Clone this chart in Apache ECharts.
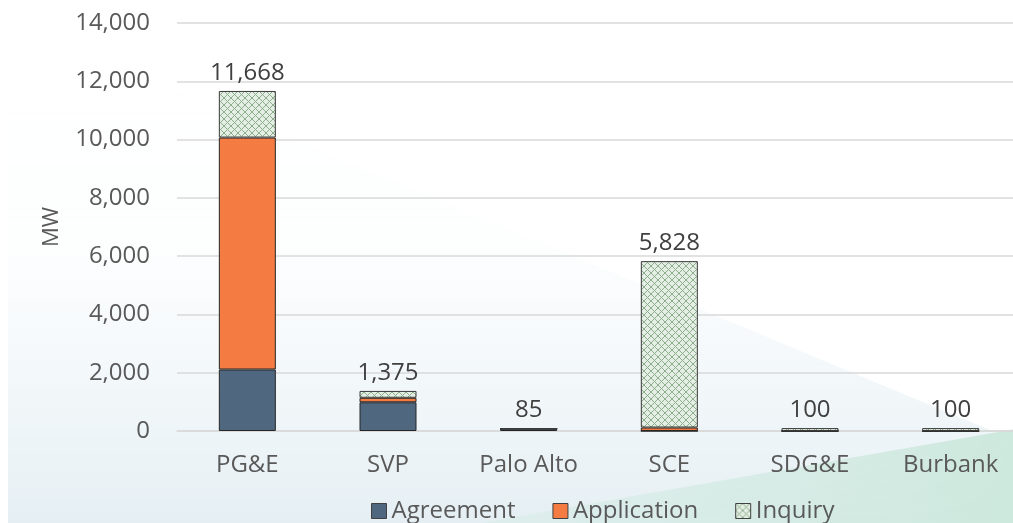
<!DOCTYPE html>
<html>
<head>
<meta charset="utf-8">
<script src="https://cdn.jsdelivr.net/npm/echarts@6/dist/echarts.min.js"></script>
<style>html,body{margin:0;padding:0;background:#fff;overflow:hidden}#c{width:1021px;height:523px}</style>
</head>
<body>
<div id="c"></div>
<script>
const categories = ['PG&E', 'SVP', 'Palo Alto', 'SCE', 'SDG&E', 'Burbank'];
const agreement = [2110, 985, 85, 0, 0, 0];
const application = [7960, 155, 0, 120, 0, 0];
const inquiry = [1598, 235, 0, 5708, 100, 100];
const totals = [11668, 1375, 85, 5828, 100, 100];
const yTicks = [0, 2000, 4000, 6000, 8000, 10000, 12000, 14000];

function hatch() {
  const c = document.createElement('canvas');
  c.width = 7; c.height = 7;
  const g = c.getContext('2d');
  g.fillStyle = '#e4eee4';
  g.fillRect(0, 0, 7, 7);
  g.strokeStyle = '#8cae8c';
  g.lineWidth = 1;
  g.beginPath();
  g.moveTo(0, 0); g.lineTo(7, 7);
  g.moveTo(7, 0); g.lineTo(0, 7);
  g.stroke();
  return c;
}
const pattern = { image: hatch(), repeat: 'repeat' };
const FONT = '"Open Sans"';
const TXT = '#595959';

const chart = echarts.init(document.getElementById('c'), null, { renderer: 'canvas' });
chart.setOption({
  animation: false,
  textStyle: { fontFamily: FONT },
  graphic: [
    { type: 'polygon', z: -10, silent: true,
      shape: { points: [[8, 20], [1021, 443], [1021, 523], [8, 523]] },
      style: { fill: new echarts.graphic.LinearGradient(0, 0, 0, 1, [
        { offset: 0, color: 'rgba(236,244,247,0)' }, { offset: 0.45, color: 'rgba(238,245,248,0.1)' },
        { offset: 0.7, color: 'rgba(238,245,248,0.7)' }, { offset: 1, color: '#e5eff3' }]) } },
    { type: 'polygon', z: -8, silent: true,
      shape: { points: [[480, 523], [1021, 428], [1021, 523]] },
      style: { fill: new echarts.graphic.LinearGradient(0, 0, 1, 0, [
        { offset: 0, color: 'rgba(214,236,230,0.5)' }, { offset: 1, color: '#cde8dd' }]) } }
  ],
  grid: { left: 177, right: 0, top: 23, bottom: 92, containLabel: false },
  legend: {
    data: ['Agreement', 'Application', 'Inquiry'],
    bottom: -5, left: 366,
    icon: 'rect', itemWidth: 15, itemHeight: 15, itemGap: 37,
    itemStyle: { borderColor: '#404040', borderWidth: 1 },
    textStyle: { fontSize: 24, color: TXT, fontFamily: FONT }
  },
  xAxis: {
    type: 'category', data: categories,
    axisTick: { show: false },
    axisLine: { lineStyle: { color: '#d9d9d9', width: 1.5 } },
    axisLabel: { fontSize: 24, color: TXT, margin: 22, fontFamily: FONT }
  },
  yAxis: {
    type: 'value', min: 0, max: 14000, interval: 2000,
    name: 'MW', nameLocation: 'middle', nameGap: 114, nameRotate: 90,
    nameTextStyle: { fontSize: 22, color: TXT, fontFamily: FONT },
    axisLine: { show: false }, axisTick: { show: false },
    splitLine: { lineStyle: { color: '#d9d9d9', width: 1.5 } },
    axisLabel: { fontSize: 24, color: TXT, margin: 27, fontFamily: FONT,
      formatter: v => yTicks.includes(v) ? v.toLocaleString('en-US') : '' }
  },
  series: [
    { name: 'Agreement', type: 'bar', stack: 'a', data: agreement, barWidth: 57,
      itemStyle: { color: '#4f6880', borderColor: '#262626', borderWidth: 1 } },
    { name: 'Application', type: 'bar', stack: 'a', data: application, barWidth: 57,
      itemStyle: { color: '#f47c42', borderColor: '#262626', borderWidth: 1 } },
    { name: 'Inquiry', type: 'bar', stack: 'a', data: inquiry, barWidth: 57,
      itemStyle: { color: pattern, borderColor: '#3a3a3a', borderWidth: 1 } },
    { name: 'Total', type: 'bar', stack: 'a', data: totals.map(() => 0), barWidth: 57,
      itemStyle: { color: 'rgba(0,0,0,0)', borderWidth: 0 },
      label: { show: true, position: 'top', distance: 6, fontSize: 24, color: '#404040', fontFamily: FONT,
        formatter: p => totals[p.dataIndex].toLocaleString('en-US') } }
  ]
});
</script>
</body>
</html>
